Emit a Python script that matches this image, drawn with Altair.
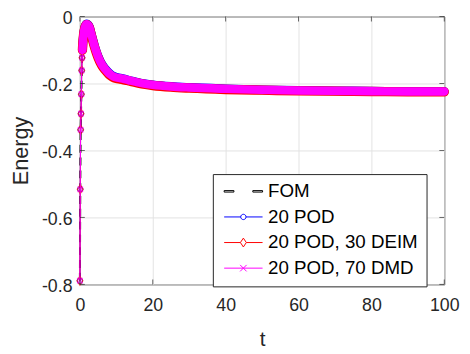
import altair as alt
import pandas as pd

# ---- data ----
t_vals = [0, 0.1, 0.2, 0.3, 0.4, 0.5, 0.6, 0.7, 0.8, 1.0, 1.3, 1.6, 1.9, 2.2, 2.6,
          3.0, 3.5, 4.0, 4.5, 5.0, 6.0, 7.0, 8.0, 9.0, 10, 11, 12, 13, 14, 16,
          18, 20, 25, 30, 40, 50, 60, 70, 80, 90, 100]

dmd_vals = [-0.789, -0.516, -0.338, -0.290, -0.232, -0.161, -0.123, -0.100, -0.080,
            -0.055, -0.035, -0.026, -0.023, -0.025, -0.032, -0.048, -0.068, -0.088,
            -0.105, -0.120, -0.143, -0.158, -0.170, -0.178, -0.182, -0.184, -0.186,
            -0.189, -0.192, -0.197, -0.201, -0.204, -0.209, -0.212, -0.216, -0.219,
            -0.221, -0.222, -0.223, -0.224, -0.224]

pod_vals = [-0.789, -0.516, -0.338, -0.290, -0.232, -0.161, -0.123, -0.100, -0.080,
            -0.055, -0.034, -0.025, -0.022, -0.024, -0.031, -0.047, -0.067, -0.087,
            -0.104, -0.119, -0.142, -0.157, -0.169, -0.177, -0.181, -0.184, -0.186,
            -0.189, -0.192, -0.197, -0.201, -0.204, -0.209, -0.212, -0.216, -0.219,
            -0.221, -0.222, -0.223, -0.224, -0.224]

deim_vals = [-0.789, -0.516, -0.338, -0.290, -0.232, -0.161, -0.123, -0.100, -0.080,
             -0.056, -0.036, -0.027, -0.024, -0.026, -0.034, -0.050, -0.071, -0.091,
             -0.108, -0.123, -0.146, -0.161, -0.173, -0.181, -0.185, -0.187, -0.189,
             -0.191, -0.194, -0.199, -0.203, -0.206, -0.211, -0.214, -0.218, -0.220,
             -0.222, -0.223, -0.224, -0.225, -0.225]

fom_vals = [-0.789, -0.516, -0.338, -0.290, -0.232, -0.161, -0.123, -0.100, -0.080,
            -0.055, -0.035, -0.026, -0.023, -0.025, -0.032, -0.048, -0.068, -0.088,
            -0.105, -0.120, -0.143, -0.158, -0.170, -0.178, -0.182, -0.184, -0.186,
            -0.189, -0.192, -0.197, -0.201, -0.204, -0.209, -0.212, -0.216, -0.219,
            -0.221, -0.222, -0.223, -0.224, -0.224]

series_names = ["FOM", "20 POD", "20 POD, 30 DEIM", "20 POD, 70 DMD"]
series_colors = ["#000000", "#0000ff", "#ff0000", "#ff00ff"]

x_ticks = [0, 20, 40, 60, 80, 100]
y_ticks = [-0.8, -0.6, -0.4, -0.2, 0]

FONT = "Liberation Sans"
AXC = "#262626"

rows = []
for name, vals in zip(series_names, [fom_vals, pod_vals, deim_vals, dmd_vals]):
    for t, e in zip(t_vals, vals):
        rows.append({"t": t, "energy": e, "series": name})
df = pd.DataFrame(rows)

xs = alt.Scale(domain=[0, 100], nice=False, zero=False)
ys = alt.Scale(domain=[-0.8, 0], nice=False, zero=False)

X = alt.X("t:Q", scale=xs, title="t",
          axis=alt.Axis(values=x_ticks, format="d", grid=True, ticks=False, domain=False,
                        labelFont=FONT, labelFontSize=18, labelColor=AXC, labelPadding=13,
                        titleFont=FONT, titleFontSize=21, titleColor=AXC, titleFontWeight="normal",
                        titlePadding=14, gridColor="#e3e3e3", labelFlush=False))
Y = alt.Y("energy:Q", scale=ys, title="Energy",
          axis=alt.Axis(values=y_ticks, grid=True, ticks=False, domain=False,
                        labelExpr="datum.value == 0 ? '0' : '-' + format(abs(datum.value), '.1f')",
                        labelFont=FONT, labelFontSize=18, labelColor=AXC, labelPadding=8,
                        labelOffset=2,
                        titleFont=FONT, titleFontSize=22, titleColor=AXC, titleFontWeight="normal",
                        titlePadding=9, gridColor="#e3e3e3", labelFlush=False))

base = alt.Chart(df)


def sel(name):
    return base.transform_filter(alt.datum.series == name)


layers = []
# FOM dashed line (drawn first)
layers.append(sel("FOM").mark_line(color="#000000", strokeWidth=2, strokeDash=[8, 5]).encode(x=X, y=Y))

marker_shapes = {
    "20 POD": ("circle", 28),
    "20 POD, 30 DEIM": ("M0,-1.5L1,0L0,1.5L-1,0Z", 36),
    "20 POD, 70 DMD": ("M-1,-1L1,1M-1,1L1,-1", 30),
}
band_width = {"20 POD": 9, "20 POD, 30 DEIM": 9.5, "20 POD, 70 DMD": 8.5}

for name, col in zip(series_names[1:], series_colors[1:]):
    s = sel(name)
    layers.append(s.transform_filter(alt.datum.t >= 0.7)
                  .mark_line(color=col, strokeWidth=band_width[name], strokeCap="round",
                             strokeJoin="round", interpolate="monotone")
                  .encode(x=X, y=Y))
    layers.append(s.mark_line(color=col, strokeWidth=1).encode(x=X, y=Y))
    shp, sz = marker_shapes[name]
    layers.append(s.transform_filter(alt.datum.t < 0.9)
                  .mark_point(shape=shp, size=sz, color=col, filled=False, strokeWidth=1.2)
                  .encode(x=X, y=Y))

# inward ticks on all four sides
xt = pd.DataFrame({"v": x_ticks})
yt = pd.DataFrame({"v": y_ticks})
tick_style = dict(color=AXC, size=5, thickness=1)
layers.append(alt.Chart(xt).mark_tick(orient="vertical", yOffset=-2.5, **tick_style)
              .encode(x=alt.X("v:Q", scale=xs), y=alt.datum(-0.8)))
layers.append(alt.Chart(xt).mark_tick(orient="vertical", yOffset=2.5, **tick_style)
              .encode(x=alt.X("v:Q", scale=xs), y=alt.datum(0)))
layers.append(alt.Chart(yt).mark_tick(orient="horizontal", xOffset=2.5, **tick_style)
              .encode(y=alt.Y("v:Q", scale=ys), x=alt.datum(0)))
layers.append(alt.Chart(yt).mark_tick(orient="horizontal", xOffset=-2.5, **tick_style)
              .encode(y=alt.Y("v:Q", scale=ys), x=alt.datum(100)))

# legend (symbols drawn by the legend itself)
legend_paths = [
    "M-2,-0.25H1.3V0.25H-2Z M7.7,-0.25H11V0.25H7.7Z",
    "M-2,0H3.6 M5.4,0H11 M3.6,0A0.9,0.9 0 1,0 5.4,0A0.9,0.9 0 1,0 3.6,0",
    "M-2,0H3.5 M5.5,0H11 M3.5,0L4.5,-1.5L5.5,0L4.5,1.5Z",
    "M-2,0H11 M3.4,-1.1L5.6,1.1 M3.4,1.1L5.6,-1.1",
]
LT = "\u00a0" * 7
leg = alt.Legend(orient="none", legendX=135, legendY=160, fillColor="white",
                 strokeColor=AXC, padding=8, cornerRadius=0, symbolSize=36,
                 symbolStrokeWidth=1, symbolOpacity=1, labelFont=FONT, labelFontSize=19,
                 labelColor="#000000", labelOffset=29, rowPadding=6,
                 titleOrient="right", titleFontSize=18, titlePadding=0)
legend_df = pd.DataFrame({"series": series_names})
layers.append(alt.Chart(legend_df).mark_point(opacity=0, filled=False).encode(
    color=alt.Color("series:N", title=LT,
                    scale=alt.Scale(domain=series_names, range=series_colors), legend=leg),
    shape=alt.Shape("series:N", title=LT,
                    scale=alt.Scale(domain=series_names, range=legend_paths), legend=leg),
))

chart = alt.layer(*layers).properties(
    width=370, height=272,
    autosize=alt.AutoSizeParams(type="none"),
    padding={"left": 73, "top": 6, "right": 18, "bottom": 67},
).configure_view(stroke=AXC, strokeWidth=1)

chart.save("out.html", embed_options={"renderer": "svg", "actions": False})
